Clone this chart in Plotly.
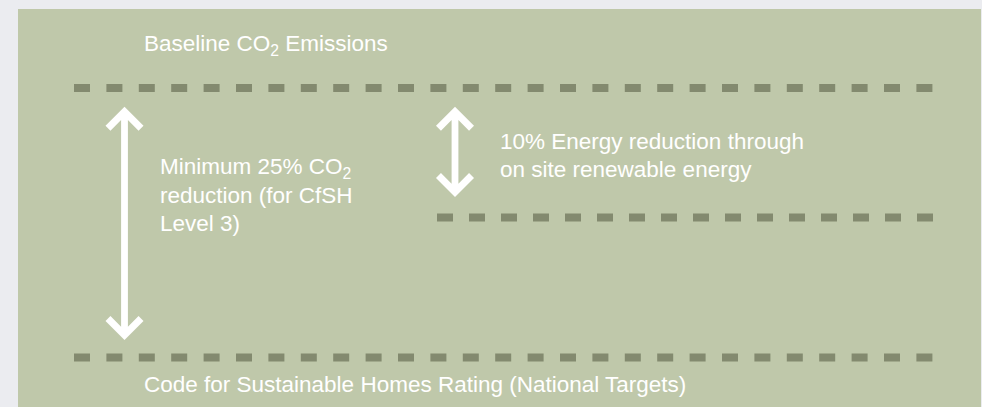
import math
import plotly.graph_objects as go

# ---- diagram content (schematic units: x across the panel, y down the panel) ----
level_labels = ["Baseline CO<sub>2</sub> Emissions",
                "On-site renewable level",
                "Code for Sustainable Homes Rating (National Targets)"]
level_y = [88, 217.5, 357.5]
level_x_start = [74, 437, 74]
level_x_end = [934, 934, 934]

arrow_names = ["Minimum 25% CO2 reduction", "10% renewable reduction"]
arrow_x = [124.5, 455]
arrow_top = [106.7, 106.7]
arrow_bottom = [340, 197]

text_labels = ["Baseline CO<sub>2</sub> Emissions",
               "Minimum 25% CO<sub>2</sub><br>reduction (for CfSH<br>Level 3)",
               "10% Energy reduction through<br>on site renewable energy",
               "Code for Sustainable Homes Rating (National Targets)"]
text_x = [143.5, 160, 500, 144]
text_first_line_y = [45, 167.5, 141.5, 384]

# ---- styles ----
OUTER_BG = "#ebecf0"
PANEL = "#bfc8aa"
DASH = "#838a6f"
WHITE = "#ffffff"
FONT = "Liberation Sans, Arial, Helvetica, sans-serif"
FONT_SIZE = 22.5
LINE_PITCH = 28
dash_patterns = ["16px,16.4px", "16px,16px", "16px,16.4px"]


def arrow_polygon(cx, yt, yb, w=3.4, H=19, t=7):
    r = t / math.sqrt(2)
    j = w + t * math.sqrt(2)
    xs = [cx, cx + H, cx + H - r, cx + w, cx + w, cx + H - r, cx + H, cx,
          cx - H, cx - H + r, cx - w, cx - w, cx - H + r, cx - H, cx]
    ys = [yt, yt + H, yt + H + r, yt + j, yb - j, yb - H - r, yb - H, yb,
          yb - H, yb - H - r, yb - j, yt + j, yt + H + r, yt + H, yt]
    return xs, ys


fig = go.Figure()

for name, y, x0, x1, dp in zip(level_labels, level_y, level_x_start, level_x_end, dash_patterns):
    fig.add_trace(go.Scatter(x=[x0, x1], y=[y, y], mode="lines", name=name,
                             line=dict(color=DASH, width=8, dash=dp),
                             hoverinfo="skip", showlegend=False))

for name, cx, yt, yb in zip(arrow_names, arrow_x, arrow_top, arrow_bottom):
    xs, ys = arrow_polygon(cx, yt, yb)
    fig.add_trace(go.Scatter(x=xs, y=ys, mode="lines", fill="toself", name=name,
                             fillcolor=WHITE, line=dict(width=0, color=WHITE),
                             hoverinfo="skip", showlegend=False))

for txt, x, y0 in zip(text_labels, text_x, text_first_line_y):
    for i, line in enumerate(txt.split("<br>")):
        fig.add_annotation(x=x, y=y0 + i * LINE_PITCH, xref="x", yref="y", text=line,
                           showarrow=False, xanchor="left", yanchor="middle", align="left",
                           borderpad=0, borderwidth=0,
                           font=dict(family=FONT, size=FONT_SIZE, color=WHITE))

fig.update_layout(
    width=982, height=407,
    margin=dict(l=18, r=1, t=9, b=0, pad=0),
    paper_bgcolor=OUTER_BG, plot_bgcolor=PANEL,
    xaxis=dict(range=[18, 981], visible=False, fixedrange=True),
    yaxis=dict(range=[407, 9], visible=False, fixedrange=True),
    showlegend=False,
)

fig.write_html("out.html", config={"displayModeBar": False},
               post_script="document.body.style.margin='0';document.body.style.background='%s';" % OUTER_BG)
